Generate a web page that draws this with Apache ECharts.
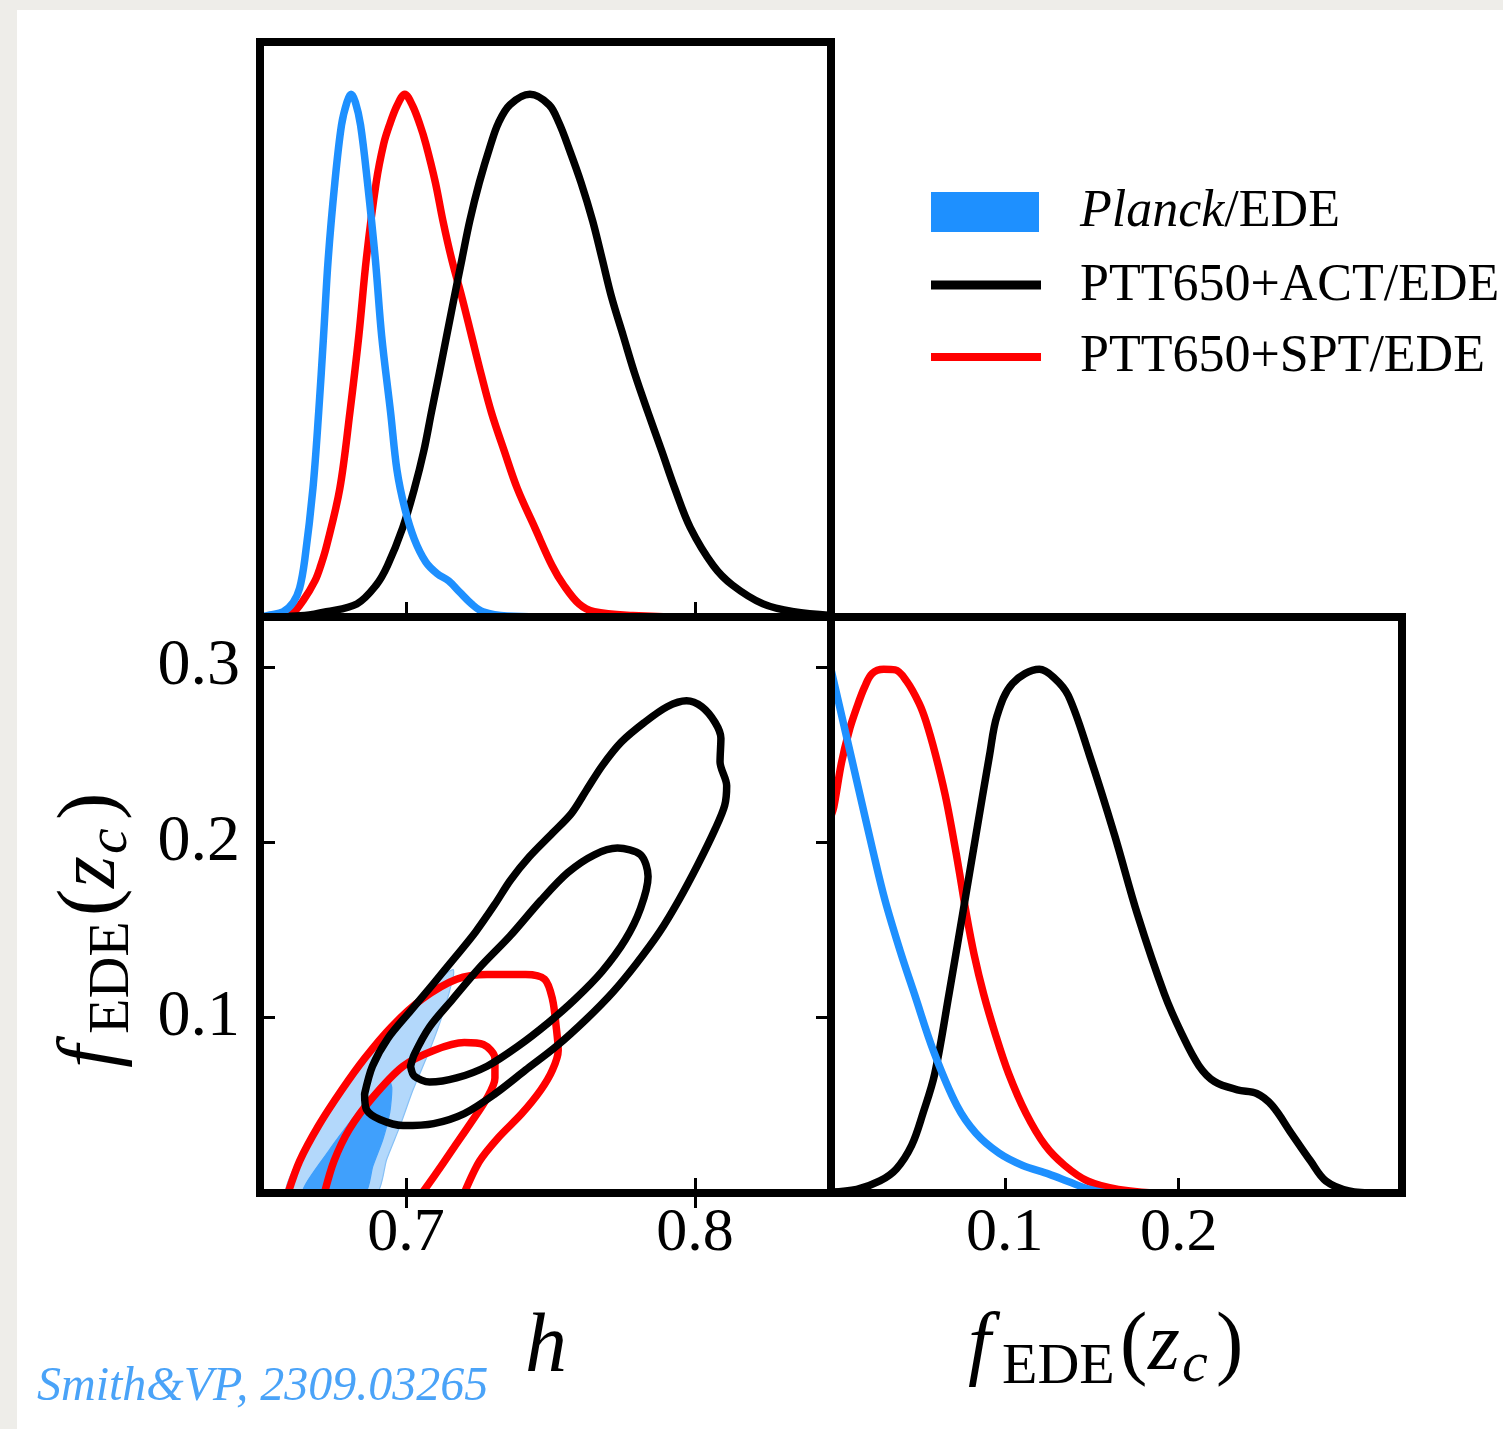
<!DOCTYPE html>
<html><head><meta charset="utf-8">
<script src="https://cdn.jsdelivr.net/npm/echarts@6/dist/echarts.min.js"></script>
<style>
html,body{margin:0;padding:0;background:#eeede9;}
#paper{position:absolute;left:17px;top:10px;width:1486px;height:1419px;background:#fff;}
#c{position:absolute;left:0;top:0;width:1503px;height:1429px;}
</style>
</head><body><div id="paper"></div><div id="c"></div>
<script>
// ---------- data ----------
const hTicks = [0.7, 0.8];
const fXTicks = [0.1, 0.2];
const fYTicks = [0.1, 0.2, 0.3];
const hRange = [0.6495, 0.8471];
const fRange = [0, 0.3285];
const pRange = [0, 1.1];

// 1D posteriors of h (normalised to peak = 1)
const hPlanck = [[0.6495,0.0],[0.6530,0.004],[0.6575,0.010],[0.6610,0.028],[0.6632,0.055],[0.6650,0.11],[0.6678,0.245],[0.6698,0.391],[0.6715,0.538],[0.6731,0.685],[0.6754,0.831],[0.6777,0.941],[0.6796,0.985],[0.6810,1.0],[0.6825,0.985],[0.6843,0.941],[0.6867,0.831],[0.6894,0.685],[0.6916,0.538],[0.6947,0.391],[0.6969,0.281],[0.6996,0.208],[0.7029,0.149],[0.7069,0.105],[0.7108,0.083],[0.7148,0.069],[0.7187,0.047],[0.7227,0.025],[0.7267,0.010],[0.735,0.002],[0.76,0.0],[0.8471,0.0]];
const hSPT = [[0.6495,0.0],[0.655,0.001],[0.6605,0.0065],[0.6645,0.032],[0.6685,0.069],[0.6705,0.098],[0.6725,0.135],[0.6771,0.245],[0.6806,0.391],[0.6837,0.538],[0.6863,0.685],[0.6897,0.831],[0.6923,0.905],[0.6943,0.941],[0.6969,0.978],[0.6996,1.0],[0.7023,0.978],[0.7049,0.941],[0.7069,0.905],[0.7102,0.831],[0.7128,0.758],[0.7158,0.685],[0.7194,0.611],[0.7227,0.538],[0.7260,0.465],[0.7296,0.391],[0.7340,0.318],[0.7386,0.245],[0.7446,0.171],[0.7506,0.098],[0.7546,0.061],[0.7599,0.025],[0.7652,0.010],[0.7785,0.003],[0.80,0.0],[0.8471,0.0]];
const hACT = [[0.6495,0.0],[0.665,0.003],[0.6725,0.010],[0.6830,0.025],[0.6897,0.061],[0.6936,0.098],[0.6989,0.171],[0.7029,0.245],[0.7062,0.318],[0.7088,0.391],[0.7115,0.465],[0.7141,0.538],[0.7167,0.611],[0.7194,0.685],[0.7221,0.758],[0.7254,0.831],[0.7294,0.905],[0.7320,0.945],[0.7360,0.980],[0.7429,1.0],[0.7495,0.980],[0.7530,0.945],[0.7565,0.895],[0.7606,0.831],[0.7646,0.758],[0.7679,0.685],[0.7712,0.611],[0.7752,0.538],[0.7792,0.465],[0.7838,0.391],[0.7885,0.318],[0.7931,0.245],[0.7984,0.171],[0.8064,0.098],[0.8130,0.061],[0.8236,0.025],[0.8342,0.010],[0.8471,0.003]];

// 1D posteriors of f_EDE(z_c)
const fPlanck = [[0.0,1.0],[0.008,0.885],[0.016,0.77],[0.024,0.655],[0.031,0.56],[0.040,0.46],[0.048,0.38],[0.0591,0.27],[0.0724,0.167],[0.0834,0.114],[0.0967,0.076],[0.110,0.053],[0.1254,0.036],[0.1365,0.022],[0.1476,0.008],[0.16,0.0],[0.3285,0.0]];
const fSPT = [[0.0,0.72],[0.0016,0.737],[0.006,0.821],[0.0104,0.882],[0.0148,0.927],[0.0193,0.966],[0.0237,0.992],[0.0303,1.0],[0.037,0.999],[0.0436,0.977],[0.0507,0.935],[0.0547,0.90],[0.0602,0.836],[0.0657,0.760],[0.0701,0.684],[0.0741,0.608],[0.0779,0.532],[0.0823,0.456],[0.0878,0.380],[0.0945,0.304],[0.1022,0.228],[0.1122,0.152],[0.1232,0.091],[0.1343,0.053],[0.1476,0.023],[0.1653,0.007],[0.1918,0.0],[0.3285,0.0]];
const fACT = [[0.0,0.002],[0.0148,0.007],[0.0281,0.023],[0.0376,0.046],[0.0464,0.091],[0.0529,0.152],[0.0597,0.228],[0.0679,0.380],[0.0757,0.532],[0.0834,0.684],[0.0912,0.836],[0.0956,0.912],[0.1044,0.973],[0.1199,1.0],[0.128,0.985],[0.1365,0.950],[0.1487,0.836],[0.1631,0.684],[0.1763,0.532],[0.1918,0.380],[0.2018,0.304],[0.2117,0.243],[0.2206,0.213],[0.2338,0.197],[0.2449,0.190],[0.2538,0.167],[0.2648,0.114],[0.2759,0.061],[0.2847,0.023],[0.298,0.004],[0.314,0.0],[0.3285,0.0]];

// 2D contours (h, f_EDE)
const planck95 = [[0.6586,0.0],[0.6690,0.038],[0.6806,0.0647],[0.6921,0.0893],[0.7037,0.1103],[0.7141,0.1255],[0.7164,0.1274],[0.7164,0.1235],[0.7129,0.1027],[0.7083,0.0818],[0.7025,0.059],[0.6979,0.038],[0.6933,0.019],[0.6898,0.0]];
const planck68 = [[0.6643,0.0],[0.6736,0.0248],[0.6813,0.0419],[0.6882,0.0561],[0.6937,0.0658],[0.6951,0.0601],[0.6944,0.0459],[0.6920,0.0305],[0.6885,0.0151],[0.6858,0.0]];
const act95 = [[0.6857,0.0565],[0.6884,0.0723],[0.6937,0.0881],[0.7016,0.1039],[0.7096,0.1196],[0.7175,0.1354],[0.7241,0.1489],[0.7308,0.1647],[0.7361,0.1782],[0.7427,0.1917],[0.7507,0.2052],[0.7573,0.2165],[0.7626,0.2301],[0.7679,0.2436],[0.7745,0.2571],[0.7825,0.2683],[0.7904,0.2773],[0.7971,0.2807],[0.8024,0.2773],[0.8070,0.2683],[0.8090,0.2593],[0.8087,0.2458],[0.8110,0.2323],[0.8103,0.2210],[0.8070,0.2075],[0.8010,0.1872],[0.7944,0.1669],[0.7878,0.1489],[0.7798,0.1309],[0.7719,0.1151],[0.7626,0.0994],[0.7520,0.0836],[0.7414,0.0701],[0.7308,0.0565],[0.7202,0.0453],[0.7096,0.0396],[0.6990,0.0385],[0.6910,0.0419],[0.6864,0.0475],[0.6857,0.0565]];
const act68 = [[0.7016,0.0723],[0.7029,0.0791],[0.7082,0.0948],[0.7162,0.1106],[0.7255,0.1286],[0.7361,0.1467],[0.7467,0.1669],[0.7560,0.1827],[0.7652,0.1929],[0.7732,0.1967],[0.7812,0.1929],[0.7838,0.1805],[0.7812,0.1624],[0.7759,0.1444],[0.7679,0.1264],[0.7586,0.1106],[0.7493,0.0971],[0.7387,0.0836],[0.7281,0.0723],[0.7175,0.0656],[0.7082,0.0633],[0.7029,0.0667],[0.7016,0.0723]];
const spt95 = [[0.6592,0.0],[0.6632,0.0182],[0.6698,0.0385],[0.6778,0.0588],[0.6857,0.0768],[0.6950,0.0948],[0.7056,0.1106],[0.7175,0.1219],[0.7281,0.1246],[0.7414,0.1246],[0.7480,0.1219],[0.7507,0.1106],[0.7520,0.0948],[0.7527,0.0813],[0.7507,0.0701],[0.7467,0.0588],[0.7401,0.0453],[0.7321,0.0318],[0.7255,0.0182],[0.7202,0.0]];
const spt68 = [[0.6718,0.0],[0.6751,0.0182],[0.6804,0.0363],[0.6884,0.0543],[0.6990,0.0723],[0.7096,0.0813],[0.7202,0.0858],[0.7268,0.0847],[0.7308,0.0768],[0.7308,0.0656],[0.7281,0.0543],[0.7228,0.0408],[0.7162,0.0250],[0.7096,0.0092],[0.7056,0.0]];

const legendNames = ['Planck', '/EDE', 'PTT650+ACT/EDE', 'PTT650+SPT/EDE'];

// ---------- styles ----------
const FF = 'Liberation Serif';
const BLUE = '#1e90ff', RED = '#ff0000', BLACK = '#000000';
const LIGHT = '#b3d8fb', DARK = '#40a0fc';
const LW = 7.5;

function lineSeries(name, pts, color, w, xi, yi, z, sm) {
  return {type:'line', name, data:pts, xAxisIndex:xi, yAxisIndex:yi, showSymbol:false, symbol:'none',
    smooth: sm, clip:true, silent:true, z, animation:false,
    lineStyle:{color, width:w, cap:'round', join:'round'}};
}
function polySeries(name, pts, fill, stroke, xi, yi, z) {
  return {type:'custom', name, xAxisIndex:xi, yAxisIndex:yi, z, silent:true, clip:true, animation:false,
    data:[0],
    renderItem:(params, api) => ({type:'polygon', shape:{points: pts.map(p => api.coord(p)), smooth:0.2},
      style:{fill, stroke, lineWidth:1.2}})};
}
const tick = (vals) => ({show:true, inside:true, length:15, customValues:vals, lineStyle:{color:'#000', width:3}});
const noLabel = {show:false};

const chart = echarts.init(document.getElementById('c'), null, {renderer:'canvas'});
const grid = (left, top, width, height) => ({left, top, width, height, show:true, borderWidth:8, borderColor:'#000', backgroundColor:'transparent', z:10});

function txt(x, y, text, size, italic, fill) {
  return {type:'text', x, y, style:{text, fontFamily:FF, fontSize:size, fontStyle: italic ? 'italic' : 'normal',
    fill: fill || '#000', verticalAlign:'middle', align:'left'}};
}
function fLabel(x, y, rot) {
  const F = 82, S = 58;
  const parts = [
    {t:'f', dx:0, dy:0, s:F, it:true},
    {t:'EDE', dx:34, dy:12, s:S, it:false},
    {t:'(', dx:152, dy:0, s:F, it:false},
    {t:'z', dx:180, dy:0, s:F, it:true},
    {t:'c', dx:214, dy:10, s:S, it:true},
    {t:')', dx:248, dy:0, s:F, it:false}];
  return {type:'group', x, y, rotation:rot, children: parts.map(p => txt(p.dx, p.dy - 0.34*p.s, p.t, p.s, p.it))};
}

const option = {
  backgroundColor:'transparent',
  animation:false,
  grid:[grid(260,42,571,575), grid(260,617,571,576), grid(831,617,571,576)],
  xAxis:[
    {gridIndex:0, type:'value', min:hRange[0], max:hRange[1], position:'bottom', axisLine:{show:false}, splitLine:{show:false}, axisTick:tick(hTicks), axisLabel:noLabel},
    {gridIndex:1, type:'value', min:hRange[0], max:hRange[1], position:'bottom', axisLine:{show:false}, splitLine:{show:false}, axisTick:tick(hTicks),
      axisLabel:{show:true, customValues:hTicks, fontFamily:FF, fontSize:62, color:'#000', margin:10, formatter:v => v.toFixed(1)}},
    {gridIndex:1, type:'value', min:hRange[0], max:hRange[1], position:'top', axisLine:{show:false}, splitLine:{show:false}, axisTick:tick(hTicks), axisLabel:noLabel},
    {gridIndex:2, type:'value', min:fRange[0], max:fRange[1], position:'bottom', axisLine:{show:false}, splitLine:{show:false}, axisTick:tick(fXTicks),
      axisLabel:{show:true, customValues:fXTicks, fontFamily:FF, fontSize:62, color:'#000', margin:10, formatter:v => v.toFixed(1)}}
  ],
  yAxis:[
    {gridIndex:0, type:'value', min:pRange[0], max:pRange[1], show:false},
    {gridIndex:1, type:'value', min:fRange[0], max:fRange[1], position:'left', axisLine:{show:false}, splitLine:{show:false}, axisTick:tick(fYTicks),
      axisLabel:{show:true, customValues:fYTicks, fontFamily:FF, fontSize:66, color:'#000', margin:20, formatter:v => v.toFixed(1)}},
    {gridIndex:1, type:'value', min:fRange[0], max:fRange[1], position:'right', axisLine:{show:false}, splitLine:{show:false}, axisTick:tick(fYTicks), axisLabel:noLabel},
    {gridIndex:2, type:'value', min:pRange[0], max:pRange[1], show:false}
  ],
  series:[
    lineSeries('SPT h', hSPT, RED, LW, 0, 0, 3, 0.35),
    lineSeries('ACT h', hACT, BLACK, LW, 0, 0, 4, 0.35),
    lineSeries('Planck h', hPlanck, BLUE, LW, 0, 0, 5, 0.35),
    polySeries('Planck 95', planck95, LIGHT, '#86c0f6', 1, 1, 2),
    polySeries('Planck 68', planck68, DARK, DARK, 1, 1, 2),
    lineSeries('SPT 95', spt95, RED, LW, 1, 1, 3, 0.3),
    lineSeries('SPT 68', spt68, RED, LW, 1, 1, 3, 0.3),
    lineSeries('ACT 95', act95, BLACK, LW, 1, 1, 4, 0.3),
    lineSeries('ACT 68', act68, BLACK, LW, 1, 1, 4, 0.3),
    lineSeries('SPT f', fSPT, RED, LW, 3, 3, 3, 0.35),
    lineSeries('ACT f', fACT, BLACK, LW, 3, 3, 4, 0.35),
    lineSeries('Planck f', fPlanck, BLUE, LW, 3, 3, 5, 0.35)
  ],
  graphic:[
    {type:'rect', shape:{x:931, y:192, width:108, height:40}, style:{fill:BLUE}},
    {type:'line', shape:{x1:931, y1:285, x2:1041, y2:285}, style:{stroke:BLACK, lineWidth:9}},
    {type:'line', shape:{x1:931, y1:357, x2:1041, y2:357}, style:{stroke:RED, lineWidth:8}},
    {type:'text', x:1080, y:212, style:{text:'{i|' + legendNames[0] + '}{n|' + legendNames[1] + '}', verticalAlign:'middle',
      rich:{i:{fontFamily:FF, fontStyle:'italic', fontSize:52, fill:'#000'}, n:{fontFamily:FF, fontSize:52, fill:'#000'}}}},
    txt(1080, 286, legendNames[2], 52, false),
    txt(1080, 357, legendNames[3], 52, false),
    txt(525, 1349, 'h', 84, true),
    fLabel(968, 1375, 0),
    fLabel(120, 1068, Math.PI / 2),
    txt(37, 1387, 'Smith&VP, 2309.03265', 48, true, '#4aa3f8')
  ]
};
chart.setOption(option);
</script>
</body></html>
